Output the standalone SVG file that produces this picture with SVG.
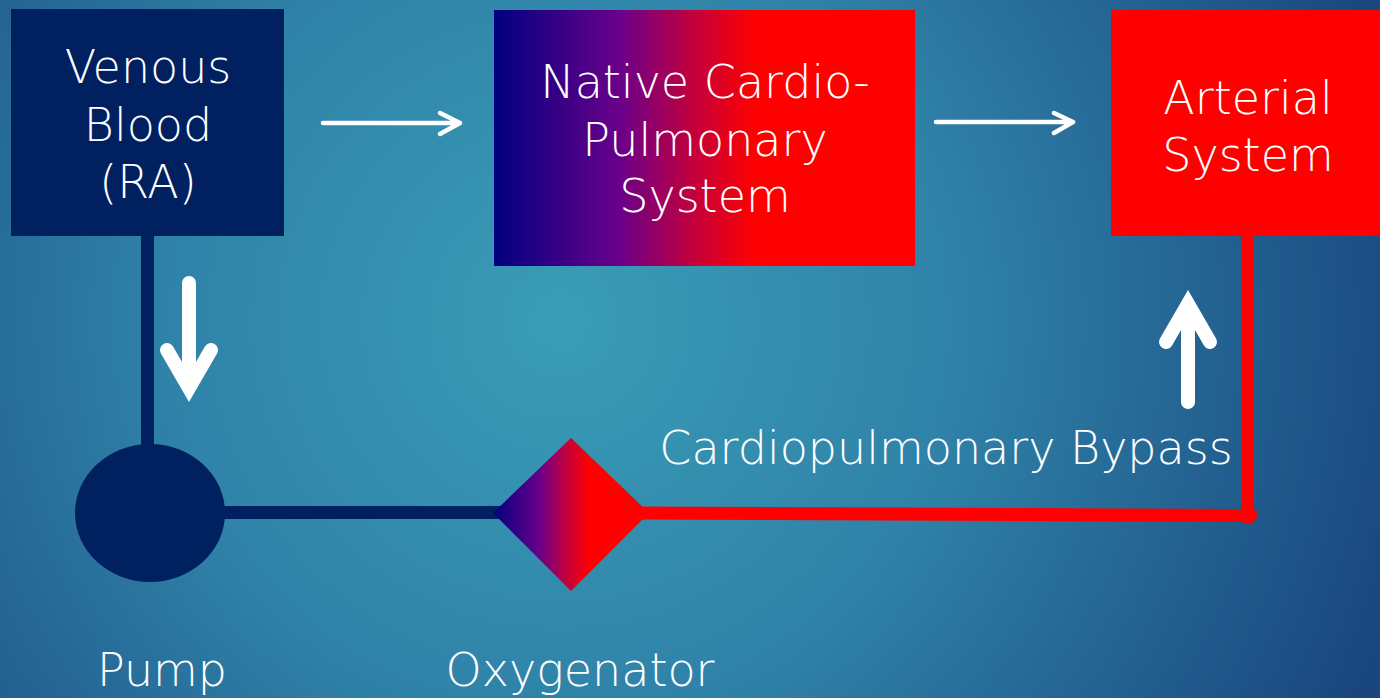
<svg xmlns="http://www.w3.org/2000/svg" width="1380" height="698" viewBox="0 0 1380 698">
  <defs>
    <radialGradient id="bg" gradientUnits="userSpaceOnUse" cx="560" cy="320" r="880">
      <stop offset="0" stop-color="#3A9DB7"/>
      <stop offset="0.45" stop-color="#2F82A8"/>
      <stop offset="1" stop-color="#19467E"/>
    </radialGradient>
    <linearGradient id="vr" x1="0" y1="0" x2="1" y2="0">
      <stop offset="0" stop-color="#000080"/>
      <stop offset="0.3" stop-color="#6A008A"/>
      <stop offset="0.47" stop-color="#C2003E"/>
      <stop offset="0.62" stop-color="#FF0000"/>
      <stop offset="1" stop-color="#FF0000"/>
    </linearGradient>
  </defs>
  <style>
    .lbl { font-family: "DejaVu Sans", "Liberation Sans", sans-serif; font-weight: 200; font-size: 46px; fill: #FFFFFF; text-anchor: middle; }
    .navy { fill: #002060; }
    .thin { fill: none; stroke: #FFFFFF; stroke-width: 4.5; stroke-linecap: round; stroke-linejoin: round; }
    .thick { fill: none; stroke: #FFFFFF; stroke-width: 14; stroke-linecap: round; stroke-linejoin: miter; stroke-miterlimit: 10; }
    .pipeN { fill: none; stroke: #002060; stroke-width: 13; }
    .pipeR { fill: none; stroke: #FF0000; stroke-width: 13; }
  </style>
  <rect x="0" y="0" width="1380" height="698" fill="url(#bg)"/>

  <g id="connectors">
    <line class="pipeN" x1="147.5" y1="230" x2="147.5" y2="460"/>
    <line class="pipeN" x1="200" y1="512.5" x2="500" y2="512.5"/>
    <line class="pipeR" x1="640" y1="513" x2="1248" y2="515.5"/>
    <line class="pipeR" x1="1247.5" y1="230" x2="1247.5" y2="515"/>
    <circle cx="1248" cy="515" r="9" fill="#FF0000"/>
    <path class="thin" d="M323,123 L460,123 M440,113 L460,123 L440,134"/>
    <path class="thin" d="M936,122 L1073,122 M1054,113 L1073,122 L1054,133"/>
    <path class="thick" d="M189,283 L189,385 M167,350 L189,388 L211,350"/>
    <path class="thick" d="M1188,402 L1188,308 M1166,342 L1188,304 L1210,342"/>
  </g>

  <g id="venous">
    <rect class="navy" x="11" y="9" width="273" height="227"/>
    <text class="lbl" x="148" y="83">Venous</text>
    <text class="lbl" x="148" y="141">Blood</text>
    <text class="lbl" x="148" y="198">(RA)</text>
  </g>

  <g id="native">
    <rect x="494" y="10" width="421" height="256" fill="url(#vr)"/>
    <text class="lbl" x="705" y="98">Native Cardio-</text>
    <text class="lbl" x="705" y="156">Pulmonary</text>
    <text class="lbl" x="705" y="212">System</text>
  </g>

  <g id="arterial">
    <rect x="1111" y="10" width="269" height="226" fill="#FF0000"/>
    <text class="lbl" x="1248" y="114">Arterial</text>
    <text class="lbl" x="1248" y="171">System</text>
  </g>

  <g id="pump">
    <ellipse class="navy" cx="150" cy="513" rx="75" ry="69"/>
    <text class="lbl" x="162" y="686">Pump</text>
  </g>

  <g id="oxygenator">
    <polygon points="571,438 649,513 571,591 493,513" fill="url(#vr)"/>
    <text class="lbl" x="580" y="686">Oxygenator</text>
  </g>

  <g id="bypass-label">
    <text class="lbl" x="946" y="464">Cardiopulmonary Bypass</text>
  </g>
</svg>
